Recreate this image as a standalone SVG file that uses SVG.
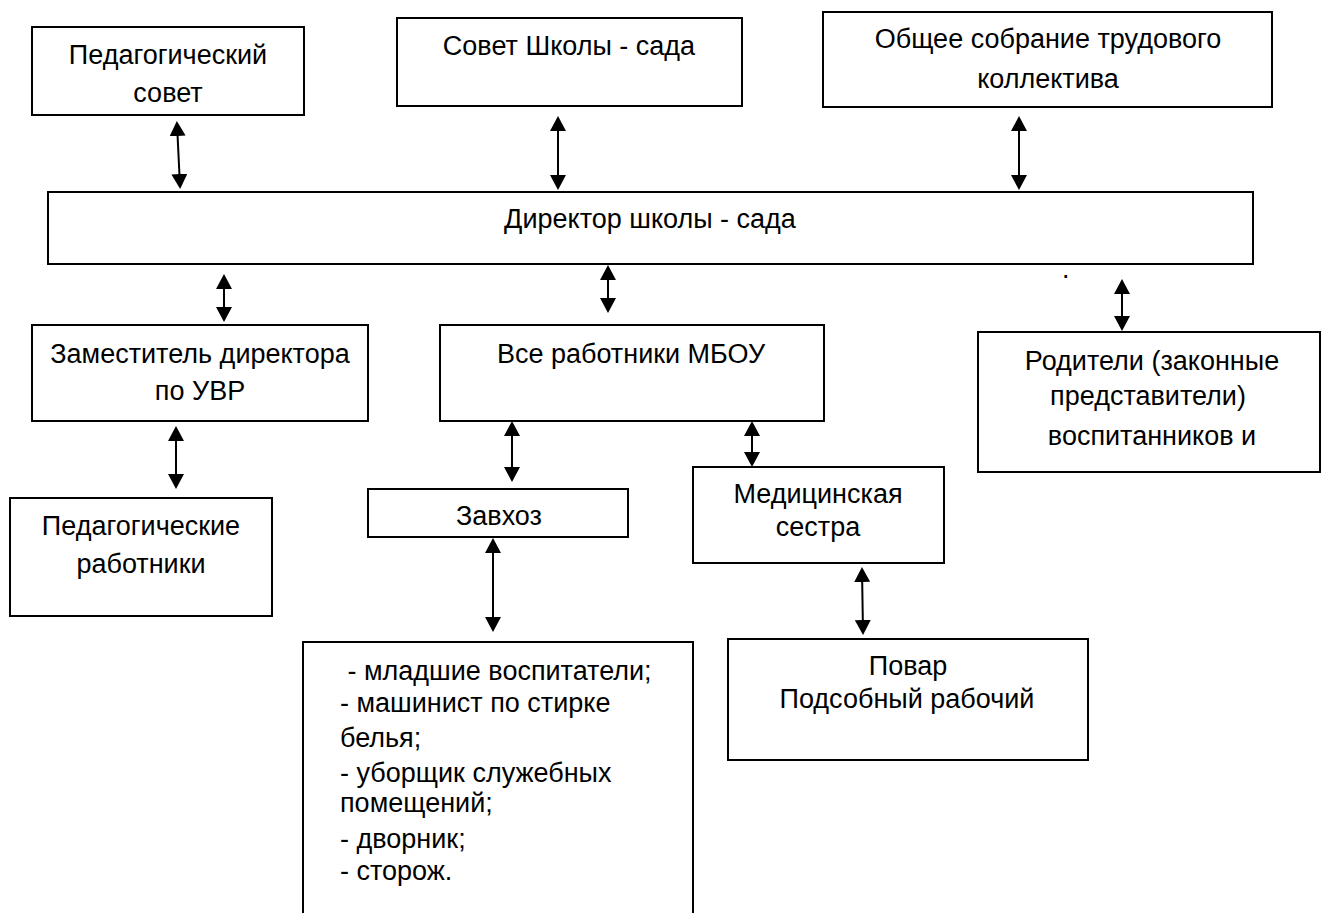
<svg xmlns="http://www.w3.org/2000/svg" width="1322" height="913" viewBox="0 0 1322 913">
<style>
.box{fill:#fff;stroke:#000;stroke-width:2}
.t{font-family:"Liberation Sans",Arial,sans-serif;font-size:27px;fill:#000}
.c{text-anchor:middle}
.ln{stroke:#000;stroke-width:2;fill:none;marker-start:url(#ah);marker-end:url(#ah)}
</style>
<defs>
<marker id="ah" markerUnits="userSpaceOnUse" markerWidth="16" markerHeight="16" refX="12" refY="8" orient="auto-start-reverse" viewBox="0 0 16 16">
<path d="M0,0 L15,8 L0,16 z" fill="#000"/>
</marker>
</defs>
<rect width="1322" height="913" fill="#fff"/>

<g id="ped-sovet">
<rect class="box" x="32" y="27" width="272" height="88"/>
<text class="t c" x="168" y="64">Педагогический</text>
<text class="t c" x="168" y="102">совет</text>
</g>
<g id="sovet-shkoly">
<rect class="box" x="397" y="18" width="345" height="88"/>
<text class="t c" x="569" y="55">Совет Школы - сада</text>
</g>
<g id="obshee-sobranie">
<rect class="box" x="823" y="12" width="449" height="95"/>
<text class="t c" x="1048" y="48">Общее собрание трудового</text>
<text class="t c" x="1048" y="88">коллектива</text>
</g>
<g id="director">
<rect class="box" x="48" y="192" width="1205" height="72"/>
<text class="t c" x="650" y="228">Директор школы - сада</text>
<text class="t" x="1062" y="278">.</text>
</g>
<g id="zam-uvr">
<rect class="box" x="32" y="325" width="336" height="96"/>
<text class="t c" x="200" y="363">Заместитель директора</text>
<text class="t c" x="200" y="400">по УВР</text>
</g>
<g id="vse-rabotniki">
<rect class="box" x="440" y="325" width="384" height="96"/>
<text class="t c" x="631" y="363">Все работники МБОУ</text>
</g>
<g id="roditeli">
<rect class="box" x="978" y="332" width="342" height="140"/>
<text class="t c" x="1152" y="370">Родители (законные</text>
<text class="t c" x="1148" y="405">представители)</text>
<text class="t c" x="1152" y="445">воспитанников и</text>
</g>
<g id="ped-rabotniki">
<rect class="box" x="10" y="498" width="262" height="118"/>
<text class="t c" x="141" y="535">Педагогические</text>
<text class="t c" x="141" y="573">работники</text>
</g>
<g id="zavhoz">
<rect class="box" x="368" y="489" width="260" height="48"/>
<text class="t" x="456" y="525">Завхоз</text>
</g>
<g id="med-sestra">
<rect class="box" x="693" y="467" width="251" height="96"/>
<text class="t c" x="818" y="503">Медицинская</text>
<text class="t c" x="818" y="536">сестра</text>
</g>
<g id="spisok">
<path class="box" d="M303,913 V642 H693 V913" fill="none"/>
<text class="t" x="340" y="680" xml:space="preserve"> - младшие воспитатели;</text>
<text class="t" x="340" y="712">- машинист по стирке</text>
<text class="t" x="340" y="747">белья;</text>
<text class="t" x="340" y="782">- уборщик служебных</text>
<text class="t" x="340" y="812">помещений;</text>
<text class="t" x="340" y="848">- дворник;</text>
<text class="t" x="340" y="880">- сторож.</text>
</g>
<g id="povar">
<rect class="box" x="728" y="639" width="360" height="121"/>
<text class="t c" x="908" y="675">Повар</text>
<text class="t c" x="907" y="708">Подсобный рабочий</text>
</g>

<g id="connectors">
<line class="ln" x1="177" y1="124" x2="180" y2="186"/>
<line class="ln" x1="558" y1="119" x2="558" y2="187"/>
<line class="ln" x1="1019" y1="119" x2="1019" y2="187"/>
<line class="ln" x1="224" y1="277" x2="224" y2="319"/>
<line class="ln" x1="608" y1="268" x2="608" y2="310"/>
<line class="ln" x1="1122" y1="282" x2="1122" y2="328"/>
<line class="ln" x1="176" y1="429" x2="176" y2="486"/>
<line class="ln" x1="512" y1="424" x2="512" y2="479"/>
<line class="ln" x1="752" y1="424" x2="752" y2="464"/>
<line class="ln" x1="862" y1="570" x2="863" y2="632"/>
<line class="ln" x1="493" y1="541" x2="493" y2="629"/>
</g>
</svg>
